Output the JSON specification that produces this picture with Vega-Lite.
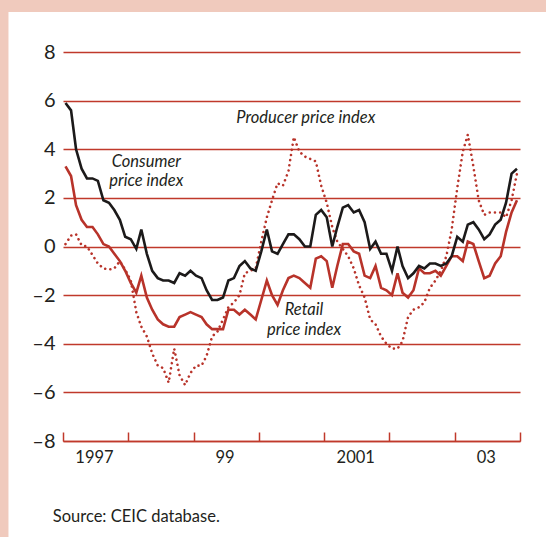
{
  "$schema": "https://vega.github.io/schema/vega-lite/v6.json",
  "width": 457,
  "height": 389,
  "autosize": {"type": "none"},
  "padding": {"left": 63, "top": 52, "right": 26, "bottom": 96},
  "background": "white",
  "config": {"view": {"stroke": null}, "font": "Lato"},
  "data": {"values": [
    {"d":"1997-01-15","cpi":5.9,"rpi":3.3,"ppi":0.1},
    {"d":"1997-02-15","cpi":5.6,"rpi":2.9,"ppi":0.45},
    {"d":"1997-03-15","cpi":4.0,"rpi":1.7,"ppi":0.5},
    {"d":"1997-04-15","cpi":3.2,"rpi":1.1,"ppi":0.05},
    {"d":"1997-05-15","cpi":2.8,"rpi":0.8,"ppi":0.0},
    {"d":"1997-06-15","cpi":2.8,"rpi":0.8,"ppi":-0.35},
    {"d":"1997-07-15","cpi":2.7,"rpi":0.5,"ppi":-0.7},
    {"d":"1997-08-15","cpi":1.9,"rpi":0.1,"ppi":-0.9},
    {"d":"1997-09-15","cpi":1.8,"rpi":0.0,"ppi":-0.95},
    {"d":"1997-10-15","cpi":1.5,"rpi":-0.3,"ppi":-0.9},
    {"d":"1997-11-15","cpi":1.1,"rpi":-0.6,"ppi":-0.6},
    {"d":"1997-12-15","cpi":0.4,"rpi":-1.0,"ppi":-0.95},
    {"d":"1998-01-15","cpi":0.3,"rpi":-1.5,"ppi":-1.4},
    {"d":"1998-02-15","cpi":-0.1,"rpi":-1.9,"ppi":-2.7},
    {"d":"1998-03-15","cpi":0.7,"rpi":-1.2,"ppi":-3.3},
    {"d":"1998-04-15","cpi":-0.3,"rpi":-2.1,"ppi":-3.7},
    {"d":"1998-05-15","cpi":-1.0,"rpi":-2.6,"ppi":-4.4},
    {"d":"1998-06-15","cpi":-1.3,"rpi":-3.0,"ppi":-4.9},
    {"d":"1998-07-15","cpi":-1.4,"rpi":-3.2,"ppi":-5.0},
    {"d":"1998-08-15","cpi":-1.4,"rpi":-3.3,"ppi":-5.6},
    {"d":"1998-09-15","cpi":-1.5,"rpi":-3.3,"ppi":-4.2},
    {"d":"1998-10-15","cpi":-1.1,"rpi":-2.9,"ppi":-5.3},
    {"d":"1998-11-15","cpi":-1.2,"rpi":-2.8,"ppi":-5.7},
    {"d":"1998-12-15","cpi":-1.0,"rpi":-2.7,"ppi":-5.2},
    {"d":"1999-01-15","cpi":-1.2,"rpi":-2.8,"ppi":-4.9},
    {"d":"1999-02-15","cpi":-1.3,"rpi":-2.9,"ppi":-4.9},
    {"d":"1999-03-15","cpi":-1.8,"rpi":-3.2,"ppi":-4.5},
    {"d":"1999-04-15","cpi":-2.2,"rpi":-3.4,"ppi":-3.7},
    {"d":"1999-05-15","cpi":-2.2,"rpi":-3.4,"ppi":-3.5},
    {"d":"1999-06-15","cpi":-2.1,"rpi":-3.4,"ppi":-3.0},
    {"d":"1999-07-15","cpi":-1.4,"rpi":-2.6,"ppi":-2.5},
    {"d":"1999-08-15","cpi":-1.3,"rpi":-2.6,"ppi":-2.3},
    {"d":"1999-09-15","cpi":-0.8,"rpi":-2.8,"ppi":-2.0},
    {"d":"1999-10-15","cpi":-0.6,"rpi":-2.6,"ppi":-1.1},
    {"d":"1999-11-15","cpi":-0.9,"rpi":-2.8,"ppi":-1.0},
    {"d":"1999-12-15","cpi":-1.0,"rpi":-3.0,"ppi":-0.9},
    {"d":"2000-01-15","cpi":-0.2,"rpi":-2.2,"ppi":0.2},
    {"d":"2000-02-15","cpi":0.7,"rpi":-1.4,"ppi":1.2},
    {"d":"2000-03-15","cpi":-0.2,"rpi":-2.0,"ppi":1.9},
    {"d":"2000-04-15","cpi":-0.3,"rpi":-2.4,"ppi":2.6},
    {"d":"2000-05-15","cpi":0.1,"rpi":-1.8,"ppi":2.5},
    {"d":"2000-06-15","cpi":0.5,"rpi":-1.3,"ppi":3.1},
    {"d":"2000-07-15","cpi":0.5,"rpi":-1.2,"ppi":4.5},
    {"d":"2000-08-15","cpi":0.3,"rpi":-1.3,"ppi":3.9},
    {"d":"2000-09-15","cpi":0.0,"rpi":-1.5,"ppi":3.7},
    {"d":"2000-10-15","cpi":0.0,"rpi":-1.7,"ppi":3.6},
    {"d":"2000-11-15","cpi":1.3,"rpi":-0.5,"ppi":3.5},
    {"d":"2000-12-15","cpi":1.5,"rpi":-0.4,"ppi":2.5},
    {"d":"2001-01-15","cpi":1.2,"rpi":-0.6,"ppi":1.8},
    {"d":"2001-02-15","cpi":0.0,"rpi":-1.7,"ppi":0.8},
    {"d":"2001-03-15","cpi":0.8,"rpi":-0.8,"ppi":0.2},
    {"d":"2001-04-15","cpi":1.6,"rpi":0.1,"ppi":-0.1},
    {"d":"2001-05-15","cpi":1.7,"rpi":0.1,"ppi":-0.4},
    {"d":"2001-06-15","cpi":1.4,"rpi":-0.2,"ppi":-0.9},
    {"d":"2001-07-15","cpi":1.5,"rpi":-0.3,"ppi":-1.6},
    {"d":"2001-08-15","cpi":1.0,"rpi":-1.2,"ppi":-2.1},
    {"d":"2001-09-15","cpi":-0.1,"rpi":-1.3,"ppi":-3.0},
    {"d":"2001-10-15","cpi":0.2,"rpi":-0.8,"ppi":-3.2},
    {"d":"2001-11-15","cpi":-0.3,"rpi":-1.7,"ppi":-3.7},
    {"d":"2001-12-15","cpi":-0.3,"rpi":-1.8,"ppi":-4.0},
    {"d":"2002-01-15","cpi":-1.0,"rpi":-2.0,"ppi":-4.2},
    {"d":"2002-02-15","cpi":0.0,"rpi":-1.1,"ppi":-4.2},
    {"d":"2002-03-15","cpi":-0.8,"rpi":-1.9,"ppi":-3.9},
    {"d":"2002-04-15","cpi":-1.3,"rpi":-2.1,"ppi":-2.9},
    {"d":"2002-05-15","cpi":-1.1,"rpi":-1.8,"ppi":-2.6},
    {"d":"2002-06-15","cpi":-0.8,"rpi":-0.9,"ppi":-2.5},
    {"d":"2002-07-15","cpi":-0.9,"rpi":-1.1,"ppi":-2.3},
    {"d":"2002-08-15","cpi":-0.7,"rpi":-1.1,"ppi":-1.7},
    {"d":"2002-09-15","cpi":-0.7,"rpi":-1.0,"ppi":-1.4},
    {"d":"2002-10-15","cpi":-0.8,"rpi":-1.2,"ppi":-1.0},
    {"d":"2002-11-15","cpi":-0.7,"rpi":-0.8,"ppi":-0.4},
    {"d":"2002-12-15","cpi":-0.4,"rpi":-0.4,"ppi":0.7},
    {"d":"2003-01-15","cpi":0.4,"rpi":-0.4,"ppi":2.4},
    {"d":"2003-02-15","cpi":0.2,"rpi":-0.6,"ppi":3.9},
    {"d":"2003-03-15","cpi":0.9,"rpi":0.2,"ppi":4.6},
    {"d":"2003-04-15","cpi":1.0,"rpi":0.1,"ppi":3.3},
    {"d":"2003-05-15","cpi":0.7,"rpi":-0.6,"ppi":1.9},
    {"d":"2003-06-15","cpi":0.3,"rpi":-1.3,"ppi":1.3},
    {"d":"2003-07-15","cpi":0.5,"rpi":-1.2,"ppi":1.4},
    {"d":"2003-08-15","cpi":0.9,"rpi":-0.7,"ppi":1.4},
    {"d":"2003-09-15","cpi":1.1,"rpi":-0.4,"ppi":1.4},
    {"d":"2003-10-15","cpi":1.8,"rpi":0.6,"ppi":1.2},
    {"d":"2003-11-15","cpi":3.0,"rpi":1.4,"ppi":1.9},
    {"d":"2003-12-15","cpi":3.2,"rpi":1.9,"ppi":3.0}
  ]},
  "encoding": {
    "x": {"field": "d", "type": "temporal", "scale": {"type": "utc", "domain": [{"year": 1997, "month": 1, "date": 1, "utc": true}, {"year": 2004, "month": 1, "date": 1, "utc": true}]},
      "axis": {"title": null, "grid": false, "domainColor": "#c0392b", "domainWidth": 1.5, "tickColor": "#c0392b", "tickWidth": 1.5, "tickSize": -9,
        "values": [{"year":1997,"month":1,"date":1,"utc":true},{"year":1998,"month":1,"date":1,"utc":true},{"year":1999,"month":1,"date":1,"utc":true},{"year":2000,"month":1,"date":1,"utc":true},{"year":2001,"month":1,"date":1,"utc":true},{"year":2002,"month":1,"date":1,"utc":true},{"year":2003,"month":1,"date":1,"utc":true},{"year":2004,"month":1,"date":1,"utc":true}],
        "labelExpr": "utcyear(datum.value)==1997?'1997':utcyear(datum.value)==1999?'99':utcyear(datum.value)==2001?'2001':utcyear(datum.value)==2003?'03':''",
        "labelOffset": 31, "labelPadding": 17, "labelFontSize": 16.5, "labelColor": "#231f20", "labelFont": "Lato", "labelFlush": false, "labelOverlap": false, "labelBound": false}}
  },
  "layer": [
    {
      "mark": {"type": "line", "stroke": "#b8332a", "strokeWidth": 2.6, "strokeDash": [0.01, 5.2], "strokeCap": "round"},
      "encoding": {
        "y": {"field": "ppi", "type": "quantitative", "scale": {"domain": [-8, 8], "nice": false, "zero": false},
          "axis": {"title": null, "values": [-8, -6, -4, -2, 0, 2, 4, 6, 8], "grid": true, "gridColor": "#c0392b", "gridWidth": 1.4, "gridOpacity": 1, "domain": false, "ticks": false, "labelPadding": 8, "labelFontSize": 20, "labelColor": "#231f20", "labelFont": "Lato",
            "labelExpr": "datum.value<0?'–'+abs(datum.value):datum.label"}}
      }
    },
    {
      "mark": {"type": "line", "stroke": "#b8332a", "strokeWidth": 2.6},
      "encoding": {
        "y": {"field": "rpi", "type": "quantitative", "scale": {"domain": [-8, 8], "nice": false, "zero": false}}
      }
    },
    {
      "mark": {"type": "line", "stroke": "#1c1a1a", "strokeWidth": 2.6},
      "encoding": {
        "y": {"field": "cpi", "type": "quantitative", "scale": {"domain": [-8, 8], "nice": false, "zero": false}}
      }
    },
    {
      "data": {"values": [
        {"d": "1994-01-01", "d2": "1996-03-02", "v": 14, "v2": -11.96},
        {"d": "1994-01-01", "d2": "2004-06-01", "v": 11.7, "v2": 9.65}
      ]},
      "mark": {"type": "rect", "fill": "#f0cabd", "clip": false},
      "encoding": {
        "x2": {"field": "d2"},
        "y": {"field": "v", "type": "quantitative", "scale": {"domain": [-8, 8], "nice": false, "zero": false}},
        "y2": {"field": "v2"}
      }
    },
    {
      "data": {"values": [
        {"d": "2000-09-20", "v": 5.07, "t": "Producer price index"},
        {"d": "1998-04-12", "v": 3.28, "t": "Consumer"},
        {"d": "1998-04-12", "v": 2.48, "t": "price index"},
        {"d": "2000-09-10", "v": -2.82, "t": "Retail"},
        {"d": "2000-09-10", "v": -3.64, "t": "price index"}
      ]},
      "mark": {"type": "text", "font": "Lato", "fontStyle": "italic", "fontSize": 16.5, "align": "center", "baseline": "alphabetic", "color": "#231f20"},
      "encoding": {
        "y": {"field": "v", "type": "quantitative", "scale": {"domain": [-8, 8], "nice": false, "zero": false}},
        "text": {"field": "t", "type": "nominal"}
      }
    },
    {
      "data": {"values": [
        {"d": "1996-11-05", "v": -11.32, "t": "Source: CEIC database."}
      ]},
      "mark": {"type": "text", "font": "Lato", "fontSize": 16.5, "align": "left", "baseline": "alphabetic", "color": "#231f20", "clip": false},
      "encoding": {
        "y": {"field": "v", "type": "quantitative", "scale": {"domain": [-8, 8], "nice": false, "zero": false}},
        "text": {"field": "t", "type": "nominal"}
      }
    }
  ]
}
